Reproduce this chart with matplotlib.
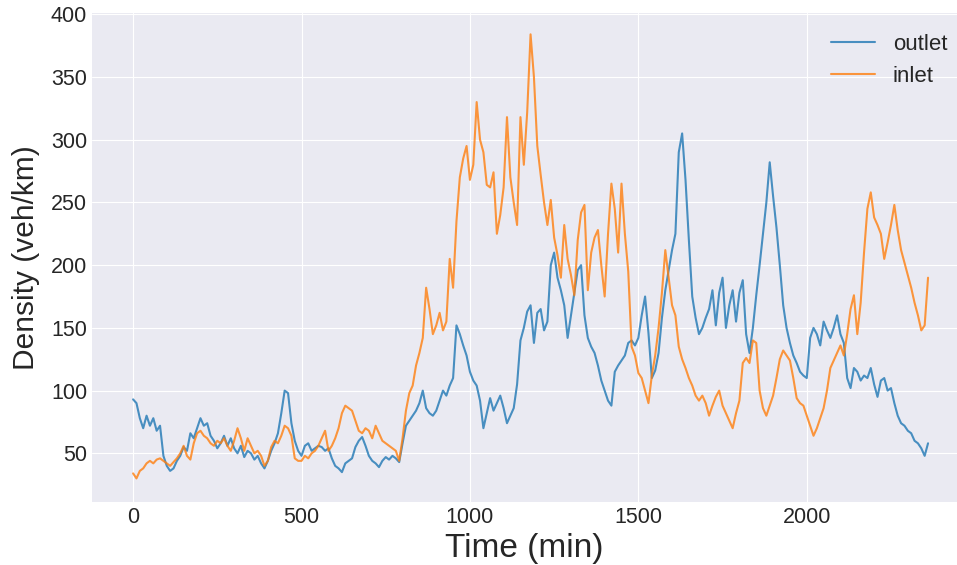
import matplotlib
matplotlib.use('Agg')
import matplotlib.pyplot as plt
import numpy as np

# time axis: one reading every 10 min
time_min = np.arange(0, 2361, 10)

outlet = [93, 90, 78, 70, 80, 72, 78, 68, 72, 48,
          40, 36, 38, 44, 48, 55, 52, 66, 62, 70,
          78, 72, 74, 64, 60, 54, 58, 64, 56, 62,
          54, 50, 56, 47, 52, 50, 45, 48, 42, 38,
          44, 52, 58, 66, 82, 100, 98, 74, 60, 52,
          48, 56, 58, 52, 54, 56, 55, 52, 54, 46,
          40, 38, 35, 42, 44, 46, 55, 60, 63, 56,
          48, 44, 42, 39, 44, 47, 45, 48, 46, 43,
          58, 72, 76, 80, 84, 90, 100, 86, 82, 80,
          84, 92, 100, 96, 104, 110, 152, 145, 136, 128,
          115, 108, 104, 92, 70, 82, 94, 84, 90, 96,
          86, 74, 80, 86, 105, 140, 150, 163, 168, 138,
          162, 165, 148, 155, 200, 210, 190, 180, 168, 142,
          160, 178, 196, 200, 160, 142, 135, 130, 120, 108,
          100, 92, 88, 115, 120, 124, 128, 138, 140, 136,
          142, 160, 175, 146, 110, 116, 130, 158, 180, 196,
          212, 225, 290, 305, 268, 220, 175, 158, 145, 150,
          158, 165, 180, 152, 178, 190, 150, 168, 180, 155,
          178, 188, 145, 130, 150, 176, 200, 225, 250, 282,
          255, 230, 200, 168, 150, 138, 128, 122, 115, 112,
          110, 142, 150, 145, 136, 155, 148, 142, 150, 160,
          145, 138, 110, 102, 118, 115, 108, 112, 110, 118,
          105, 95, 108, 110, 100, 102, 90, 80, 74, 72,
          68, 66, 60, 58, 54, 48, 58]

inlet = [34, 30, 36, 38, 42, 44, 42, 45, 46, 44,
         42, 40, 43, 46, 50, 56, 48, 45, 58, 66,
         68, 64, 62, 58, 56, 60, 58, 62, 56, 52,
         60, 70, 62, 52, 62, 56, 50, 52, 48, 40,
         44, 55, 60, 58, 64, 72, 70, 64, 46, 44,
         44, 48, 46, 50, 52, 56, 62, 68, 52, 56,
         62, 70, 82, 88, 86, 84, 76, 68, 66, 70,
         68, 62, 72, 66, 60, 58, 56, 54, 52, 44,
         62, 84, 98, 104, 120, 130, 142, 182, 165, 145,
         152, 162, 148, 155, 205, 182, 235, 270, 285, 295,
         268, 280, 330, 300, 290, 264, 262, 274, 225, 240,
         262, 318, 270, 250, 232, 318, 280, 322, 384, 350,
         295, 272, 250, 232, 252, 222, 208, 190, 232, 205,
         192, 176, 220, 242, 248, 180, 210, 222, 228, 200,
         175, 225, 265, 245, 210, 265, 225, 195, 135, 128,
         114, 110, 100, 90, 112, 128, 150, 178, 212, 190,
         168, 160, 135, 125, 118, 110, 104, 96, 92, 96,
         90, 80, 88, 95, 100, 88, 82, 76, 70, 82,
         92, 122, 126, 122, 140, 138, 100, 86, 80, 88,
         96, 110, 125, 132, 128, 124, 110, 94, 90, 88,
         80, 72, 64, 70, 78, 86, 100, 118, 124, 130,
         136, 128, 145, 165, 176, 145, 170, 210, 245, 258,
         238, 232, 225, 205, 218, 232, 248, 228, 212, 202,
         192, 182, 170, 160, 148, 152, 190]

plt.style.use('seaborn-v0_8-darkgrid')
plt.rcParams['font.family'] = ['Liberation Sans', 'DejaVu Sans']

fig = plt.figure(figsize=(9.57, 5.65), dpi=100)
ax = fig.add_axes([92 / 957, 1 - 502 / 565, 865 / 957, 489 / 565])

ax.plot(time_min, outlet, color='#1f77b4', alpha=0.8, lw=1.5, label='outlet')
ax.plot(time_min, inlet, color='#ff7f0e', alpha=0.8, lw=1.5, label='inlet')

ax.set_xlim(-122, 2446)
ax.set_ylim(11.2, 401)
ax.set_xticks([0, 500, 1000, 1500, 2000])
ax.set_yticks([50, 100, 150, 200, 250, 300, 350, 400])
ax.tick_params(labelsize=15.5, colors='.15')
ax.set_xlabel('Time (min)', fontsize=24, color='.15')
ax.set_ylabel('Density (veh/km)', fontsize=21.5, color='.15', labelpad=8)
ax.legend(loc='upper right', fontsize=16, bbox_to_anchor=(1.012, 0.998))

fig.savefig('out.png', dpi=100)
